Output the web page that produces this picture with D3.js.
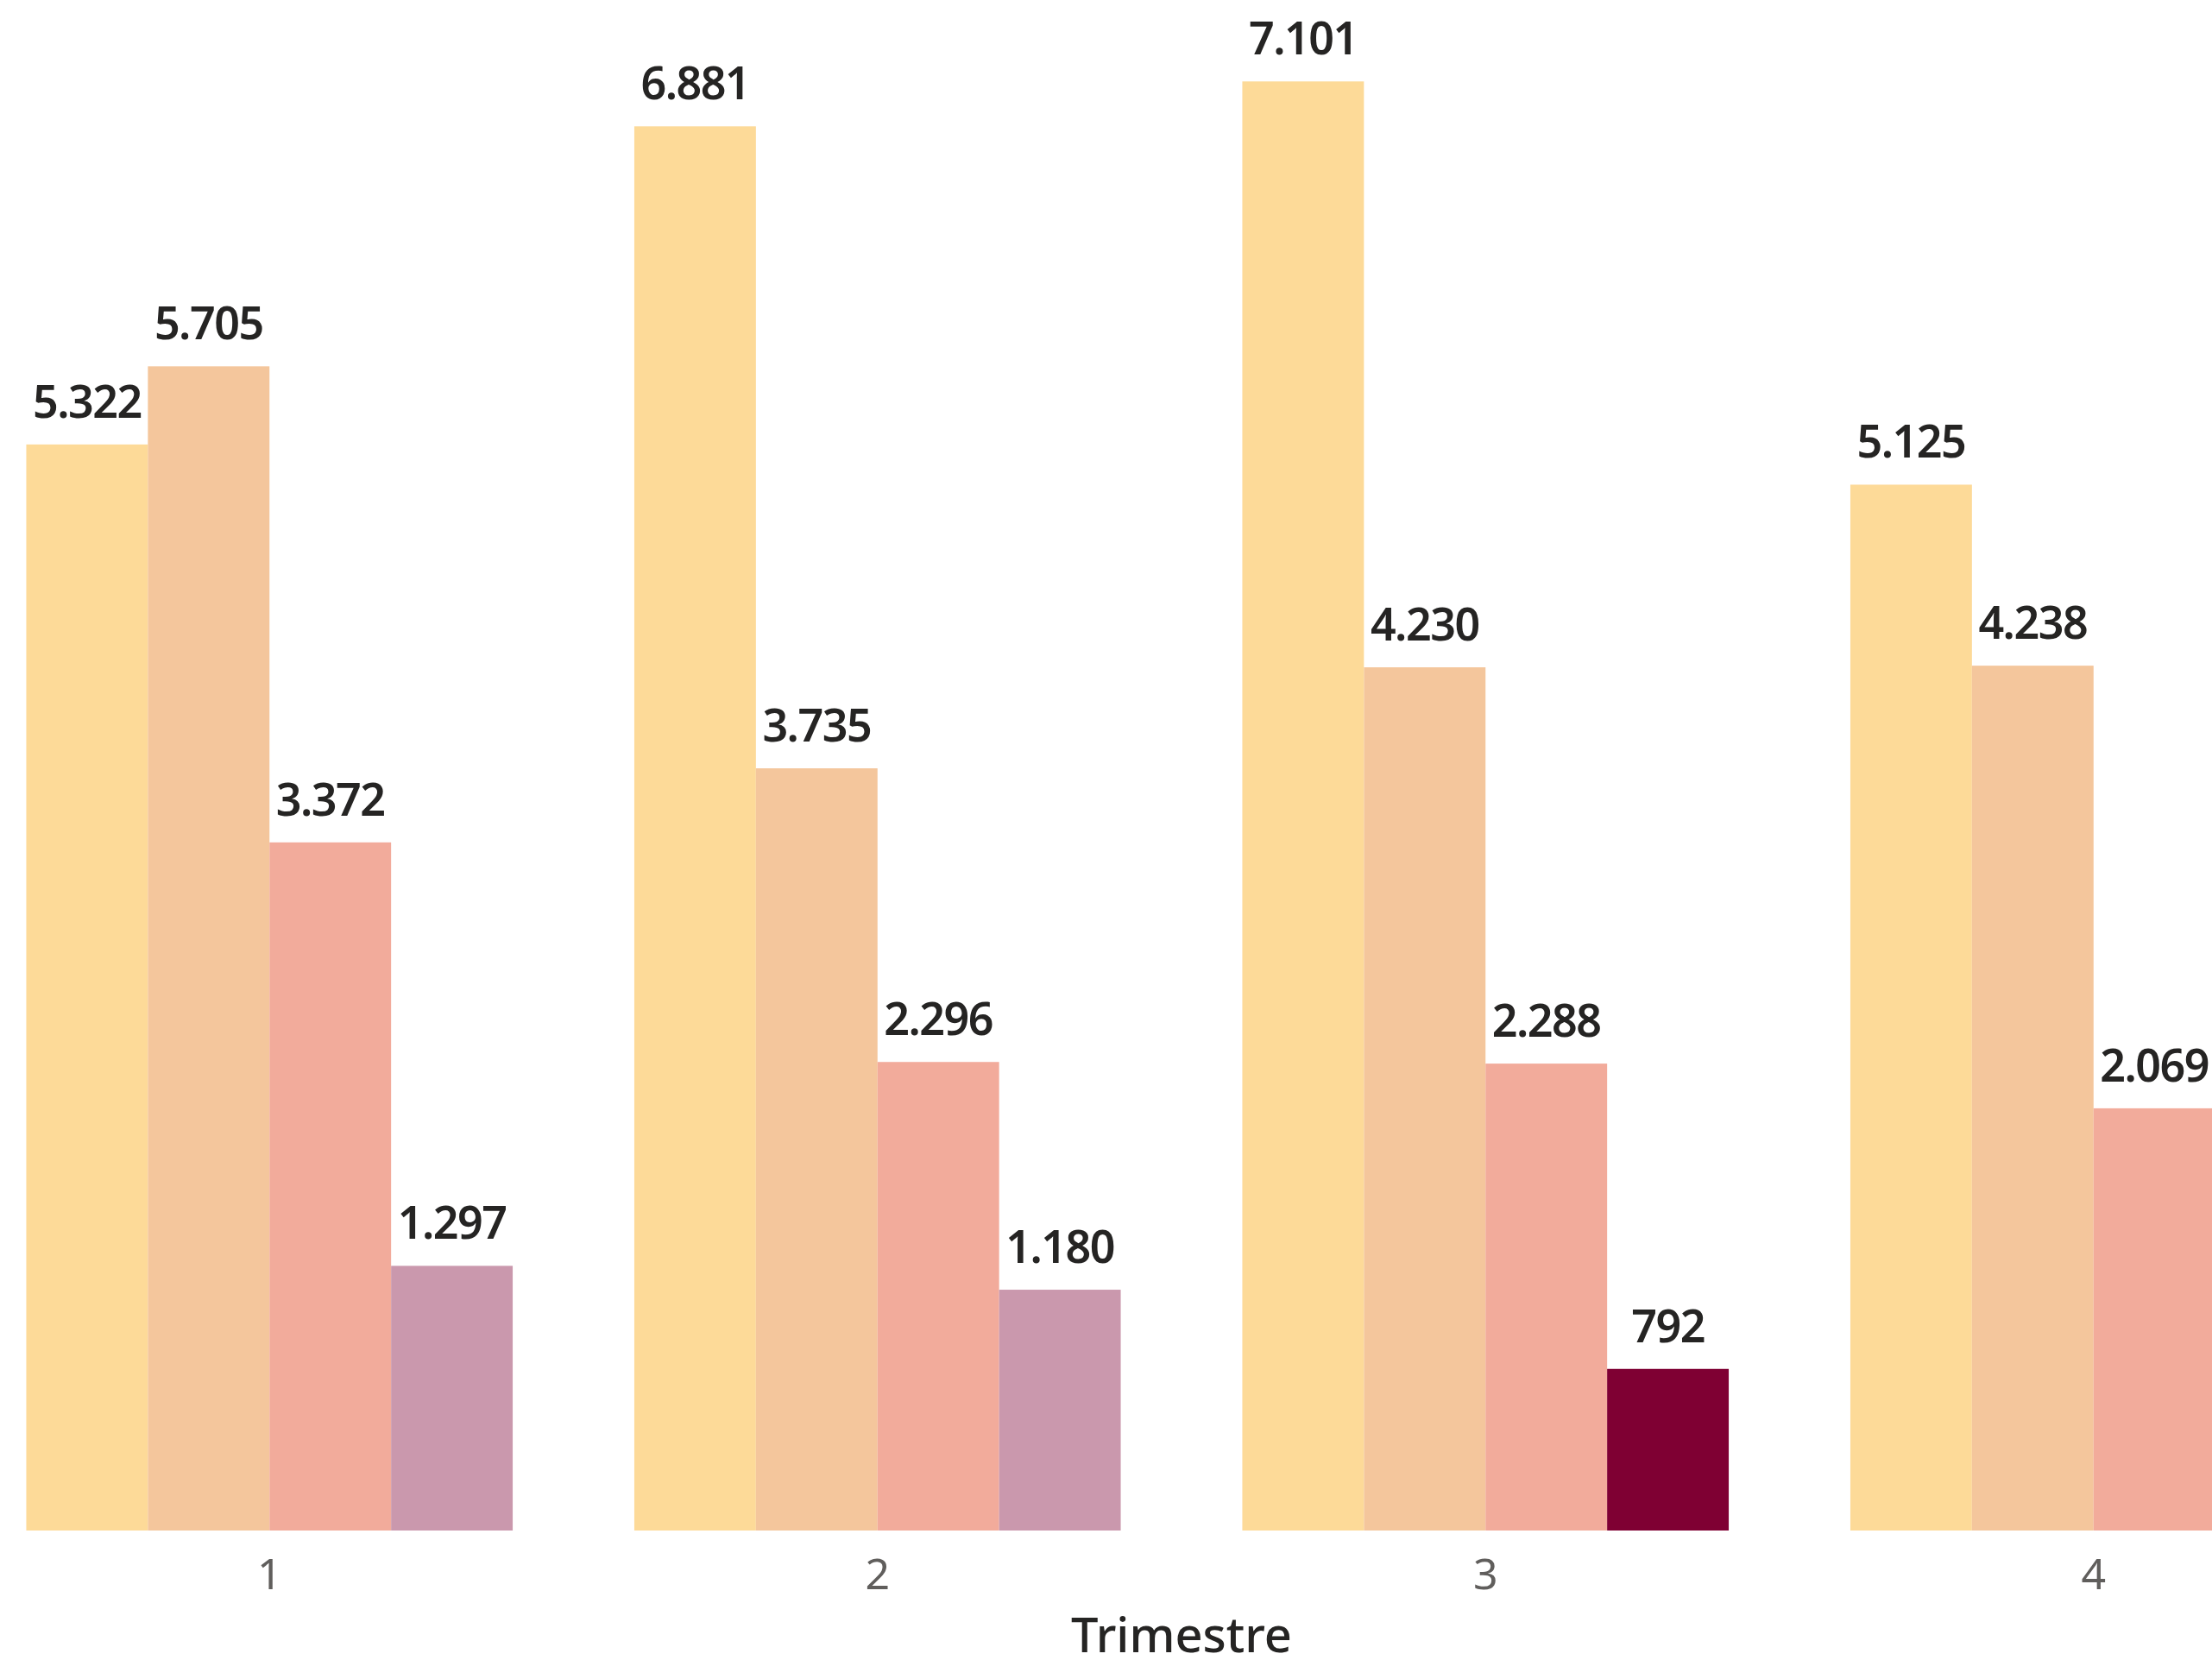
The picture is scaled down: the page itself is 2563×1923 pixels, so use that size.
<!DOCTYPE html>
<html>
<head>
<meta charset="utf-8">
<script src="https://cdn.jsdelivr.net/npm/d3@7"></script>
<style>
  html, body { margin: 0; padding: 0; background: #ffffff; overflow: hidden; }
  svg { display: block; }
</style>
</head>
<body>
<script>
// ---- Data ----
const quarters = ["1", "2", "3", "4"];
const seriesNames = ["Serie 1", "Serie 2", "Serie 3", "Serie 4"];
const serie1 = [5322, 6881, 7101, 5125];
const serie2 = [5705, 3735, 4230, 4238];
const serie3 = [3372, 2296, 2288, 2069];
const serie4 = [1297, 1180, 792, 900]; // Q4 value falls outside the visible frame (estimate)
const seriesColors = ["#FDDA98", "#F4C69C", "#F2AB9B", "#CA98AD"];
const highlightColor = "#7F0033";
const highlighted = { quarter: "3", series: "Serie 4" };
const xTitle = "Trimestre";

const seriesValues = [serie1, serie2, serie3, serie4];

const W = 2563, H = 1923;
const svg = d3.select("body").append("svg").attr("width", W).attr("height", H);

const x0 = d3.scaleBand().domain(quarters).range([-40, 2778]).paddingInner(0.2).paddingOuter(0.1);
const x1 = d3.scaleBand().domain(seriesNames).range([0, x0.bandwidth()]);
const y = d3.scaleLinear().domain([0, 7500]).range([1773, 0]);
const color = d3.scaleOrdinal().domain(seriesNames).range(seriesColors);

const fmt = d3.formatLocale({ decimal: ",", thousands: ".", grouping: [3], currency: ["€", ""] }).format(",d");

const rows = [];
quarters.forEach((q, qi) => {
  seriesNames.forEach((s, si) => {
    rows.push({ q, s, v: seriesValues[si][qi] });
  });
});

const g = svg.append("g");

g.selectAll("rect.bar").data(rows).join("rect")
  .attr("class", "bar")
  .attr("x", d => x0(d.q) + x1(d.s))
  .attr("width", x1.bandwidth())
  .attr("y", d => y(d.v))
  .attr("height", d => y(0) - y(d.v))
  .attr("fill", d => (d.q === highlighted.quarter && d.s === highlighted.series) ? highlightColor : color(d.s));

g.selectAll("text.lbl").data(rows).join("text")
  .attr("class", "lbl")
  .attr("x", d => x0(d.q) + x1(d.s) + x1.bandwidth() / 2)
  .attr("y", d => y(d.v) - 31)
  .attr("text-anchor", "middle")
  .style("font-family", "'Noto Sans', sans-serif")
  .style("font-size", "52px")
  .style("font-weight", 600)
  .style("letter-spacing", "-1.5px")
  .style("fill", "#252423")
  .text(d => fmt(d.v));

// x axis (no line, no ticks)
const xAxis = d3.axisBottom(x0).tickSize(0).tickPadding(0);
const ax = svg.append("g").attr("transform", `translate(0, ${y(0)})`).call(xAxis);
ax.select(".domain").remove();
ax.selectAll("text")
  .attr("y", 68)
  .attr("dy", null)
  .style("font-family", "'Noto Sans', sans-serif")
  .style("font-size", "50px")
  .style("fill", "#605E5C");

svg.append("text")
  .attr("x", (x0.range()[0] + x0.range()[1]) / 2)
  .attr("y", 1914)
  .attr("text-anchor", "middle")
  .style("font-family", "'Noto Sans', sans-serif")
  .style("font-size", "56px")
  .style("font-weight", 500)
  .style("fill", "#252423")
  .text(xTitle);
</script>
</body>
</html>
